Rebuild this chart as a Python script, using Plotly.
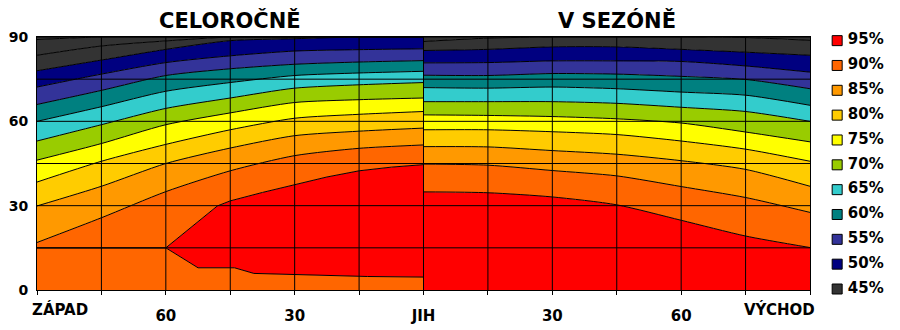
import plotly.graph_objects as go

# Legend levels and their fill colours
levels = ["95%", "90%", "85%", "80%", "75%", "70%", "65%", "60%", "55%", "50%", "45%"]
level_colors = ["#FF0000", "#FF6600", "#FF9900", "#FFCC00", "#FFFF00", "#99CC00",
                "#33CCCC", "#008080", "#333399", "#000080", "#333333"]
C = dict(zip(levels, level_colors))

# Year-round half: west (-90) to south (0)
west_x = [-90, -75, -60, -45, -30, -15, 0]
west_red_low_x = [-90, -60, -52.5, -44, -39.5, -28.5, -13, 0]
west_red_low = [15, 15, 7.9, 7.9, 5.9, 5.5, 4.8, 4.6]
west_red_top_x = [-90, -60, -48, -45, -37.5, -30, -22.5, -15, -7.5, 0]
west_red_top = [15, 15, 29.9, 31.7, 34.7, 37.4, 40.2, 42.4, 43.7, 44.6]
west_90 = [16.9, 25.7, 35.0, 42.4, 47.8, 50.4, 51.6]
west_85 = [29.9, 36.9, 45.0, 50.5, 54.9, 56.5, 57.6]
west_80 = [38.4, 45.8, 51.8, 57.0, 61.1, 62.5, 63.5]
west_75 = [46.2, 52.1, 58.8, 63.0, 66.7, 67.7, 68.3]
west_70 = [53.0, 58.8, 64.6, 68.3, 71.8, 73.0, 73.8]
west_65 = [60.0, 65.2, 70.7, 73.8, 76.3, 77.2, 77.8]
west_60 = [66.0, 71.0, 76.3, 78.7, 80.3, 81.1, 81.6]
west_55 = [72.2, 76.8, 80.9, 83.3, 85.0, 85.5, 85.8]
west_50 = [78.0, 81.8, 85.6, 88.7, 89.4, 90.0, 90.0]
west_40 = [83.5, 86.8, 88.6, 90.0, 90.0, 90.0, 90.0]
west_35 = [89.1, 90.0, 90.0, 90.0, 90.0, 90.0, 90.0]
west_top = [90, 90, 90, 90, 90, 90, 90]

# In-season half: south (0) to east (90)
east_x = [0, 15, 30, 45, 60, 75, 90]
east_95 = [34.9, 34.6, 33.1, 30.3, 24.8, 19.2, 15.1]
east_90 = [44.8, 44.4, 42.5, 40.6, 36.8, 32.9, 27.6]
east_85 = [51.0, 50.9, 49.6, 48.3, 46.0, 42.9, 36.9]
east_80 = [57.0, 57.0, 56.3, 55.3, 53.0, 50.1, 45.8]
east_75 = [62.3, 62.1, 61.7, 60.9, 59.4, 56.2, 52.7]
east_70 = [67.0, 67.0, 67.0, 66.4, 65.0, 63.5, 60.0]
east_65 = [72.0, 71.8, 72.2, 71.6, 70.4, 69.3, 65.7]
east_60 = [76.4, 76.3, 77.0, 76.8, 76.0, 74.9, 71.6]
east_55 = [80.8, 80.9, 81.5, 81.5, 81.3, 79.7, 77.5]
east_50 = [85.2, 85.6, 86.5, 86.5, 85.6, 84.6, 83.5]
east_40 = [88.4, 89.6, 90.0, 90.0, 90.0, 89.8, 88.8]
east_top = [90, 90, 90, 90, 90, 90, 90]

# Axis labels
x_tick_vals = [-60, -30, 0, 30, 60]
x_tick_text = ["60", "30", "JIH", "30", "60"]
x_edge_labels = ["ZÁPAD", "VÝCHOD"]
y_tick_vals = [0, 30, 60, 90]
titles = ["CELOROČNĚ", "V SEZÓNĚ"]

X_MIN, X_MAX, Y_MIN, Y_MAX, GRID = -90, 90, 0, 90, 15
FONT = "DejaVu Sans"

west_bands = [
    (west_red_low_x, west_red_low, C["90%"], "linear"),
    (west_red_top_x, west_red_top, C["95%"], "linear"),
    (west_x, west_90, C["90%"], "spline"),
    (west_x, west_85, C["85%"], "spline"),
    (west_x, west_80, C["80%"], "spline"),
    (west_x, west_75, C["75%"], "spline"),
    (west_x, west_70, C["70%"], "spline"),
    (west_x, west_65, C["65%"], "spline"),
    (west_x, west_60, C["60%"], "spline"),
    (west_x, west_55, C["55%"], "spline"),
    (west_x, west_50, C["50%"], "spline"),
    (west_x, west_40, C["45%"], "spline"),
    (west_x, west_35, C["45%"], "spline"),
    (west_x, west_top, C["45%"], "linear"),
]
east_bands = [
    (east_x, east_95, C["95%"], "spline"),
    (east_x, east_90, C["90%"], "spline"),
    (east_x, east_85, C["85%"], "spline"),
    (east_x, east_80, C["80%"], "spline"),
    (east_x, east_75, C["75%"], "spline"),
    (east_x, east_70, C["70%"], "spline"),
    (east_x, east_65, C["65%"], "spline"),
    (east_x, east_60, C["60%"], "spline"),
    (east_x, east_55, C["55%"], "spline"),
    (east_x, east_50, C["50%"], "spline"),
    (east_x, east_40, C["45%"], "spline"),
    (east_x, east_top, C["45%"], "linear"),
]

fig = go.Figure()


def add_bands(bands):
    for i, (bx, by, color, shape) in enumerate(bands):
        fig.add_trace(go.Scatter(
            x=bx, y=by, mode="lines",
            line=dict(color="black", width=1, shape=shape, smoothing=0.7),
            fill="tozeroy" if i == 0 else "tonexty", fillcolor=color,
            showlegend=False, hoverinfo="skip",
        ))


add_bands(west_bands)
add_bands(east_bands)

# Legend drawn as its own small panel on the right: swatches, then labels
legend_rows = list(range(len(levels)))
fig.add_trace(go.Scatter(
    x=[0] * len(levels), y=legend_rows, mode="markers",
    marker=dict(symbol="square", size=10, color=level_colors,
                line=dict(color="black", width=1)),
    xaxis="x2", yaxis="y2", showlegend=False, hoverinfo="skip", cliponaxis=False,
))
fig.add_trace(go.Scatter(
    x=[10.5] * len(levels), y=legend_rows, mode="text",
    text=levels, textposition="middle right",
    textfont=dict(family=FONT, size=15, color="black", weight="bold"),
    xaxis="x2", yaxis="y2", showlegend=False, hoverinfo="skip", cliponaxis=False,
))

# Black grid drawn over the bands
for gx in range(X_MIN + GRID, X_MAX, GRID):
    fig.add_shape(type="line", xref="x", yref="y", x0=gx, x1=gx, y0=Y_MIN, y1=Y_MAX,
                  line=dict(color="black", width=1), layer="above")
for gy in range(Y_MIN + GRID, Y_MAX, GRID):
    fig.add_shape(type="line", xref="x", yref="y", x0=X_MIN, x1=X_MAX, y0=gy, y1=gy,
                  line=dict(color="black", width=1), layer="above")

tick_font = dict(family=FONT, size=15, color="black", weight="bold")
fig.update_layout(
    width=900, height=330,
    margin=dict(l=37, r=5, t=37, b=35),
    paper_bgcolor="white", plot_bgcolor="white",
    showlegend=False,
    xaxis=dict(
        domain=[0, 773 / 858], range=[X_MIN, X_MAX],
        tickvals=x_tick_vals, ticktext=x_tick_text,
        ticks="outside", ticklen=4, tickcolor="black", tickwidth=1,
        minor=dict(dtick=GRID, tick0=0, ticks="outside", ticklen=4,
                   tickcolor="black", tickwidth=1, showgrid=False),
        showgrid=False, zeroline=False, showline=True, mirror=True,
        linecolor="black", linewidth=1, tickfont=tick_font, ticklabelstandoff=8,
    ),
    yaxis=dict(
        range=[Y_MIN, Y_MAX], tickvals=y_tick_vals, ticks="",
        showgrid=False, zeroline=False, showline=True, mirror=True,
        linecolor="black", linewidth=1,
        tickfont=dict(family=FONT, size=14, color="black", weight="bold"),
        ticklabelstandoff=5,
    ),
    xaxis2=dict(domain=[789 / 858, 1], range=[-11, 57], visible=False),
    yaxis2=dict(domain=[0, 1], range=[10.04, -0.146], visible=False, anchor="x2"),
)

# Edge labels of the direction axis
fig.add_annotation(x=X_MIN, y=0, xref="x", yref="paper", text=x_edge_labels[0],
                   showarrow=False, xanchor="left", yanchor="middle",
                   xshift=-7, yshift=-19.5, font=tick_font)
fig.add_annotation(x=X_MAX, y=0, xref="x", yref="paper", text=x_edge_labels[1],
                   showarrow=False, xanchor="right", yanchor="middle",
                   xshift=7, yshift=-19.5, font=tick_font)

# Panel titles over each half
for tx, title in zip([-45, 45], titles):
    fig.add_annotation(x=tx, y=1, xref="x", yref="paper", text=title,
                       showarrow=False, xanchor="center", yanchor="middle", yshift=17,
                       font=dict(family=FONT, size=21, color="black", weight="bold"))

fig.write_html("out.html")
